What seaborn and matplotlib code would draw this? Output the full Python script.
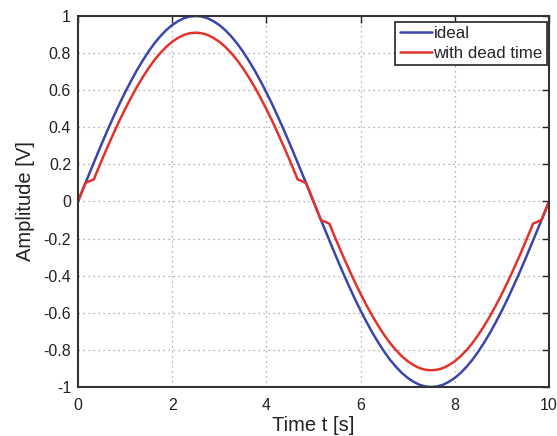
import numpy as np
import pandas as pd
import matplotlib
matplotlib.use("Agg")
import matplotlib.pyplot as plt
import seaborn as sns

# ideal sine, every 0.125 s
t_ideal = [0, 0.125, 0.25, 0.375, 0.5, 0.625, 0.75, 0.875, 1.0, 1.125, 1.25, 1.375,
           1.5, 1.625, 1.75, 1.875, 2.0, 2.125, 2.25, 2.375, 2.5, 2.625, 2.75, 2.875,
           3.0, 3.125, 3.25, 3.375, 3.5, 3.625, 3.75, 3.875, 4.0, 4.125, 4.25, 4.375,
           4.5, 4.625, 4.75, 4.875, 5.0, 5.125, 5.25, 5.375, 5.5, 5.625, 5.75, 5.875,
           6.0, 6.125, 6.25, 6.375, 6.5, 6.625, 6.75, 6.875, 7.0, 7.125, 7.25, 7.375,
           7.5, 7.625, 7.75, 7.875, 8.0, 8.125, 8.25, 8.375, 8.5, 8.625, 8.75, 8.875,
           9.0, 9.125, 9.25, 9.375, 9.5, 9.625, 9.75, 9.875, 10.0]
v_ideal = [0, 0.079, 0.156, 0.233, 0.309, 0.383, 0.454, 0.523, 0.588, 0.649, 0.707,
           0.760, 0.809, 0.853, 0.891, 0.924, 0.951, 0.972, 0.988, 0.997, 1.0,
           0.997, 0.988, 0.972, 0.951, 0.924, 0.891, 0.853, 0.809, 0.760, 0.707,
           0.649, 0.588, 0.523, 0.454, 0.383, 0.309, 0.233, 0.156, 0.079, 0,
           -0.079, -0.156, -0.233, -0.309, -0.383, -0.454, -0.523, -0.588, -0.649, -0.707,
           -0.760, -0.809, -0.853, -0.891, -0.924, -0.951, -0.972, -0.988, -0.997, -1.0,
           -0.997, -0.988, -0.972, -0.951, -0.924, -0.891, -0.853, -0.809, -0.760, -0.707,
           -0.649, -0.588, -0.523, -0.454, -0.383, -0.309, -0.233, -0.156, -0.079, 0]

# output with dead time (flat steps around the zero crossings)
t_dead = [0, 0.125, 0.16, 0.34, 0.375, 0.5, 0.625, 0.75, 0.875, 1.0, 1.125, 1.25,
          1.375, 1.5, 1.625, 1.75, 1.875, 2.0, 2.125, 2.25, 2.375, 2.5, 2.625, 2.75,
          2.875, 3.0, 3.125, 3.25, 3.375, 3.5, 3.625, 3.75, 3.875, 4.0, 4.125, 4.25,
          4.375, 4.5, 4.625, 4.66, 4.84, 4.875, 5.0, 5.125, 5.16, 5.34, 5.375, 5.5,
          5.625, 5.75, 5.875, 6.0, 6.125, 6.25, 6.375, 6.5, 6.625, 6.75, 6.875, 7.0,
          7.125, 7.25, 7.375, 7.5, 7.625, 7.75, 7.875, 8.0, 8.125, 8.25, 8.375, 8.5,
          8.625, 8.75, 8.875, 9.0, 9.125, 9.25, 9.375, 9.5, 9.625, 9.66, 9.84, 9.875, 10.0]
v_dead = [0, 0.079, 0.10, 0.12, 0.143, 0.219, 0.293, 0.364, 0.433, 0.498, 0.559, 0.617,
          0.670, 0.719, 0.763, 0.801, 0.834, 0.861, 0.882, 0.898, 0.907, 0.91, 0.907,
          0.898, 0.882, 0.861, 0.834, 0.801, 0.763, 0.719, 0.670, 0.617, 0.559, 0.498,
          0.433, 0.364, 0.293, 0.219, 0.143, 0.12, 0.10, 0.079, 0, -0.079, -0.10, -0.12,
          -0.143, -0.219, -0.293, -0.364, -0.433, -0.498, -0.559, -0.617, -0.670, -0.719,
          -0.763, -0.801, -0.834, -0.861, -0.882, -0.898, -0.907, -0.91, -0.907, -0.898,
          -0.882, -0.861, -0.834, -0.801, -0.763, -0.719, -0.670, -0.617, -0.559, -0.498,
          -0.433, -0.364, -0.293, -0.219, -0.143, -0.12, -0.10, -0.079, 0]

x_ticks = [0, 2, 4, 6, 8, 10]
y_ticks = [-1, -0.8, -0.6, -0.4, -0.2, 0, 0.2, 0.4, 0.6, 0.8, 1]
y_ticklabels = ["-1", "-0.8", "-0.6", "-0.4", "-0.2", "0", "0.2", "0.4", "0.6", "0.8", "1"]

sns.set_style("white")
plt.rcParams["font.family"] = ["Liberation Sans", "DejaVu Sans"]

df = pd.concat([
    pd.DataFrame({"t": t_ideal, "v": v_ideal, "series": "ideal"}),
    pd.DataFrame({"t": t_dead, "v": v_dead, "series": "with dead time"}),
])

fig = plt.figure(figsize=(5.57, 4.36), dpi=100)
ax = fig.add_axes([0.140, 0.1124, 0.8456, 0.851])

sns.lineplot(data=df, x="t", y="v", hue="series", sort=False,
             palette={"ideal": "#3A46AE", "with dead time": "#E2332B"},
             linewidth=1.8, ax=ax)

ax.set_xlim(0, 10)
ax.set_ylim(-1, 1)
ax.set_xticks(x_ticks)
ax.set_xticklabels([str(x) for x in x_ticks])
ax.set_yticks(y_ticks)
ax.set_yticklabels(y_ticklabels)
ax.tick_params(direction="in", length=5, width=1, top=True, right=True,
               labelsize=11.5, colors="#222222", pad=5)
ax.tick_params(axis="x", pad=8)
ax.grid(True, linestyle=(0, (1, 3)), color="#999999", linewidth=0.9)
for s in ax.spines.values():
    s.set_color("#333333")
    s.set_linewidth(1.5)

ax.set_xlabel("Time t [s]", fontsize=14.5, color="#222222", labelpad=2)
ax.set_ylabel("Amplitude [V]", fontsize=14.5, color="#222222", labelpad=6)

leg = ax.legend(loc="upper right", bbox_to_anchor=(0.996, 0.984), fontsize=12.2,
                frameon=True, fancybox=False, handlelength=1.9, handletextpad=0.1,
                labelspacing=0.3, borderpad=0.25, borderaxespad=0)
leg.get_frame().set_edgecolor("#222222")
leg.get_frame().set_linewidth(1.2)
leg.get_frame().set_alpha(1)

fig.savefig("out.png", dpi=100)
